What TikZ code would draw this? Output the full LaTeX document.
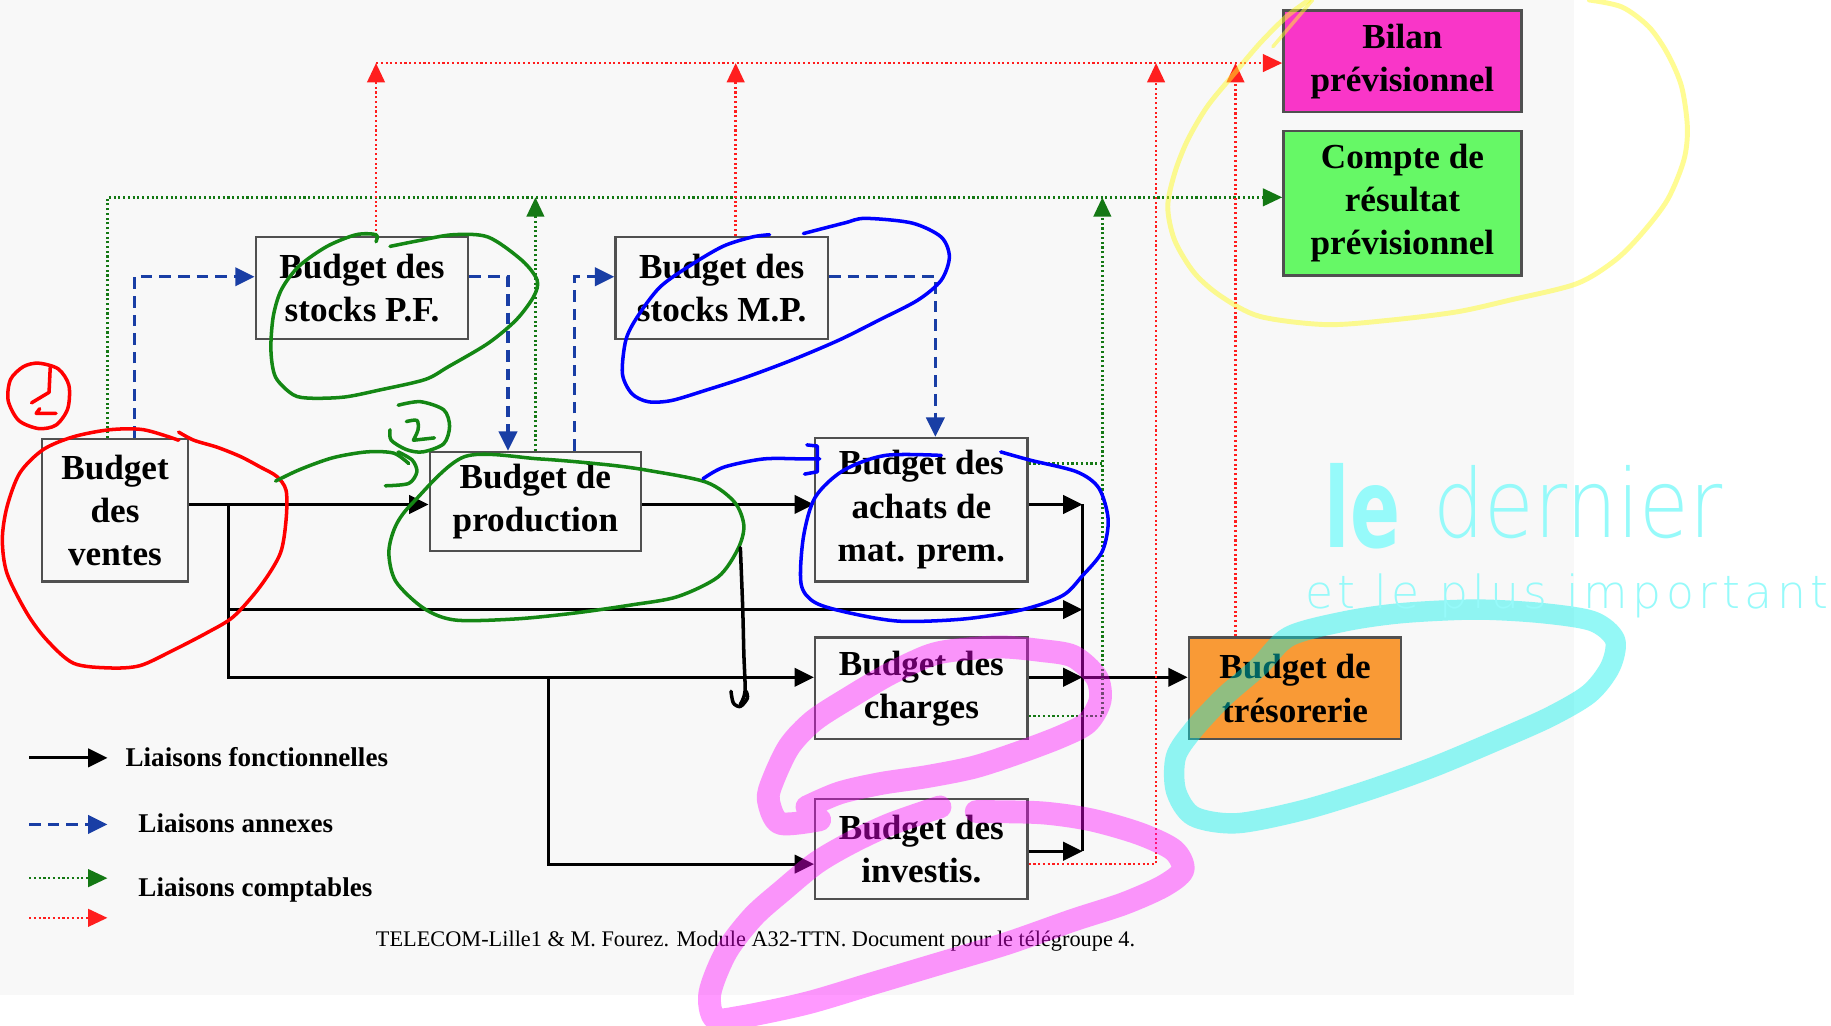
\documentclass[tikz,border=0pt]{standalone}
\usepackage{fontspec}
\setmainfont{Liberation Serif}
\newfontfamily\handfont{DejaVu Sans ExtraLight}
\newfontfamily\blobfont{DejaVu Sans Bold}
\usetikzlibrary{arrows.meta}
\definecolor{bg}{RGB}{248,248,248}
\definecolor{boxline}{RGB}{80,80,80}
\definecolor{annblue}{RGB}{25,62,165}
\definecolor{cptgreen}{RGB}{20,120,20}
\definecolor{cptred}{RGB}{255,30,30}
\definecolor{bilanfill}{RGB}{249,54,200}
\definecolor{comptefill}{RGB}{102,248,102}
\definecolor{tresofill}{RGB}{249,154,54}
\definecolor{hlcyan}{RGB}{0,240,235}
\definecolor{hlpink}{RGB}{255,0,255}
\definecolor{hlyellow}{RGB}{255,250,40}
\definecolor{penred}{RGB}{255,0,0}
\definecolor{pengreen}{RGB}{20,135,20}
\definecolor{penblue}{RGB}{0,0,255}
\definecolor{pencyan}{RGB}{150,250,250}
\begin{document}
\begin{tikzpicture}[
      x=0.11677mm, y=-0.11677mm,
      box/.style={draw=boxline, line width=0.65pt, fill=bg, align=center, inner sep=0pt,
        minimum width=21.25mm, minimum height=10.16mm,
        font=\fontsize{10}{12.3}\selectfont\bfseries},
      fct/.style={draw=black, line width=0.9pt, -{Triangle[length=5.5pt,width=5.2pt]}},
      lien/.style={draw=black, line width=0.9pt},
      annexe/.style={draw=annblue, line width=0.9pt, dash pattern=on 3.3pt off 2pt,
        -{Triangle[length=5.5pt,width=5.2pt]}},
      compta/.style={draw=cptgreen, line width=0.7pt, dash pattern=on 0.6pt off 0.75pt,
        -{Triangle[length=5.5pt,width=5pt]}},
      comptaline/.style={draw=cptgreen, line width=0.7pt, dash pattern=on 0.6pt off 0.75pt},
      rcompta/.style={draw=cptred, line width=0.7pt, dash pattern=on 0.6pt off 0.75pt,
        -{Triangle[length=5.5pt,width=5pt]}},
      legtxt/.style={anchor=west, inner sep=0pt, font=\fontsize{7.7}{9}\selectfont\bfseries},
      scribble/.style={line width=1pt, line cap=round, line join=round},
      marker/.style={line width=6.5pt, line cap=round, line join=round, draw opacity=0.4}
    ]
      \useasboundingbox (0,0) rectangle (1568,878);
      \fill[white] (0,0) rectangle (1568,878);
      \fill[bg] (0,0) rectangle (1348,852);

      % budgets
      \node[box, minimum width=14.6mm, minimum height=14.25mm] (ventes) at (98.5,437) {Budget\\des\\ventes};
      \node[box] (stockspf) at (310,246.5) {Budget des\\stocks P.F.};
      \node[box] (stocksmp) at (618,246.5) {Budget des\\stocks M.P.};
      \node[box, minimum width=21.14mm, minimum height=9.93mm] (prod) at (458.5,429.5) {Budget de\\production};
      \node[box, minimum height=14.36mm] (achats) at (789,436.5) {Budget des\\achats de\\mat. prem.};
      \node[box] (charges) at (789,589.5) {Budget des\\charges};
      \node[box, minimum height=10.04mm] (investis) at (789,727) {Budget des\\investis.};
      \node[box, fill=tresofill] (treso) at (1109,589.5) {Budget de\\trésorerie};
      \node[box, fill=bilanfill, minimum width=23.82mm] (bilan) at (1201,52.5) {Bilan\\prévisionnel};
      \node[box, fill=comptefill, minimum width=23.82mm, minimum height=14.48mm] (compte) at (1201,174) {Compte de\\résultat\\prévisionnel};

      % rows and columns of the links
      \coordinate (rowA) at (0,432);
      \coordinate (rowB) at (0,522);
      \coordinate (rowC) at (0,580);
      \coordinate (rowD) at (0,740);
      \coordinate (rowE) at (0,729);
      \coordinate (split1) at (196,432);
      \coordinate (split2) at (470,580);
      \coordinate (coll) at (927,432);
      \coordinate (aRow) at (115,237);
      \coordinate (aCol1) at (435,237);
      \coordinate (aCol2) at (492,237);
      \coordinate (aCol3) at (801,237);
      \coordinate (gTop) at (92,169);
      \coordinate (gCol) at (944,169);
      \coordinate (gAch) at (0,397);
      \coordinate (gCha) at (0,613);
      \coordinate (rTop) at (322,54);
      \coordinate (rMP) at (630,54);
      \coordinate (rInv) at (990,54);
      \coordinate (rTre) at (1058,54);

      % liaisons fonctionnelles
      \draw[fct] (ventes.east |- rowA) -- (prod.west |- rowA);
      \draw[fct] (prod.east |- rowA) -- (achats.west |- rowA);
      \draw[fct] (split1) |- (coll |- rowB);
      \draw[fct] (split1) |- (charges.west |- rowC);
      \draw[fct] (split2) |- (investis.west |- rowD);
      \draw[fct] (achats.east |- rowA) -- (coll);
      \draw[fct] (charges.east |- rowC) -- (coll |- rowC);
      \draw[fct] (investis.east |- rowE) -- (coll |- rowE);
      \draw[lien] (coll) -- (coll |- rowE);
      \draw[fct] (coll |- rowC) -- (treso.west |- rowC);

      % liaisons annexes
      \draw[annexe] (ventes.north -| aRow) |- (stockspf.west |- aRow);
      \draw[annexe] (stockspf.east |- aRow) -| (prod.north -| aCol1);
      \draw[annexe] (prod.north -| aCol2) |- (stocksmp.west |- aRow);
      \draw[annexe] (stocksmp.east |- aRow) -| (achats.north -| aCol3);

      % liaisons comptables
      \draw[compta] (ventes.north -| gTop) |- (compte.west |- gTop);
      \draw[compta] (prod.north) -- (prod.north |- gTop);
      \draw[compta] (charges.east |- gCha) -| (gCol);
      \draw[comptaline] (achats.east |- gAch) -- (gCol |- gAch);
      \draw[rcompta] (stockspf.north -| rTop) -- (rTop);
      \draw[rcompta] (rTop) -- (bilan.west |- rTop);
      \draw[rcompta] (stocksmp.north -| rMP) -- (rMP);
      \draw[rcompta] (investis.east |- rowD) -| (rInv);
      \draw[rcompta] (treso.north -| rTre) -- (rTre);

      % legend
      \coordinate (lgA1) at (25,649);  \coordinate (lgA2) at (92,649);
      \coordinate (lgB1) at (25,706);  \coordinate (lgB2) at (92,706);
      \coordinate (lgC1) at (25,752);  \coordinate (lgC2) at (92,752);
      \coordinate (lgD1) at (25,786);  \coordinate (lgD2) at (92,786);
      \draw[fct] (lgA1) -- (lgA2);
      \draw[annexe] (lgB1) -- (lgB2);
      \draw[compta] (lgC1) -- (lgC2);
      \draw[rcompta] (lgD1) -- (lgD2);
      \node[legtxt] (legfct) at (107,648) {Liaisons fonctionnelles};
      \node[legtxt] (legann) at (118,705) {Liaisons annexes};
      \node[legtxt] (legcpt) at (118,762) {Liaisons comptables};
      \node[inner sep=0pt, font=\fontsize{6.35}{8}\selectfont] (footer) at (647,806)
        {TELECOM-Lille1 \& M. Fourez. Module A32-TTN. Document pour le télégroupe 4.};

      % hand annotations
      \draw[scribble, penred] plot[smooth cycle] coordinates {(33,311) (50,316) (59,330) (58,350) (48,364) (33,367) (16,360) (7,343) (9,325) (20,314)};
      \draw[scribble, penred] (43,315) -- (42,336) -- (27,345);
      \draw[scribble, penred] (34,350) -- (31,354) -- (48,354);
      \draw[scribble, penred] plot[smooth] coordinates {(153,377) (123,368) (94,368) (63,374) (37,385) (17,405) (6,434) (2,462) (6,491) (23,525) (40,548) (63,568) (94,572) (120,570) (148,557) (177,542) (200,528) (223,502) (240,474) (245,445) (245,420) (237,408) (223,400) (206,391) (186,383) (166,377) (153,370)};

      \draw[scribble, pengreen] plot[smooth] coordinates {(322,207) (322,201) (305,201) (280,211) (256,228) (241,248) (234,271) (232,300) (236,323) (251,338) (266,341) (295,340) (325,334) (364,325) (384,314) (418,294) (442,274) (457,254) (460,240) (447,223) (418,203) (388,201) (359,206) (334,211)};
      \draw[scribble, pengreen] plot[smooth] coordinates {(236,412) (257,402) (285,392) (314,387) (337,388) (350,397)};
      \draw[scribble, pengreen] plot[smooth] coordinates {(341,387) (353,394) (357,404) (350,414) (330,416)};
      \draw[scribble, pengreen] plot[smooth] coordinates {(341,347) (360,344) (380,351) (385,365) (380,380) (362,387) (348,385) (335,377) (334,368)};
      \draw[scribble, pengreen] plot[smooth] coordinates {(348,361) (357,360) (358,368) (354,377)} -- (372,375);
      \draw[scribble, pengreen] plot[smooth cycle] coordinates {(398,391) (462,393) (520,398) (556,403) (605,413) (629,430) (637,450) (632,470) (615,494) (580,511) (541,518) (492,525) (442,530) (390,531) (363,521) (339,498) (333,473) (339,450) (354,430)};

      \draw[scribble, penblue] plot[smooth] coordinates {(688,200) (723,191) (741,187) (781,191) (806,203) (813,220) (806,240) (786,257) (753,274) (719,291) (679,308) (639,323) (605,334) (575,343) (555,344) (541,337) (533,320) (536,291) (546,271) (565,246) (590,228) (619,211) (644,203) (659,201)};
      \draw[scribble, penblue] plot[smooth] coordinates {(602,410) (620,400) (654,393) (688,393) (702,393)};
      \draw[scribble, penblue] (691,381) -- (700,382) -- (700,404) -- (689,406);
      \draw[scribble, penblue] plot[smooth] coordinates {(806,390) (758,390) (722,403) (698,426) (688,460) (686,500) (698,516) (728,525) (771,532) (826,530) (876,522) (910,510) (927,493) (944,472) (949,445) (941,418) (922,404) (882,394) (857,387)};

      \draw[scribble, black] plot[smooth] coordinates {(634,469) (636,520) (637,560) (638,592) (634,603)};
      \draw[scribble, black] plot[smooth] coordinates {(626,592) (628,602) (634,605) (640,598) (639,592)};

      \draw[marker, hlpink] plot[smooth] coordinates {(702,702) (668,705) (658,685) (662,668) (676,639) (697,617) (728,597) (762,577) (794,562) (816,557) (856,554) (891,557) (919,562) (939,580) (942,600) (931,619) (908,631) (871,645) (834,657) (794,665) (754,671) (719,679) (691,691)};
      \draw[marker, hlpink] plot[smooth] coordinates {(805,691) (762,706) (728,722) (699,739) (671,762) (645,785) (622,815) (608,850) (612,872) (634,871) (691,859) (748,842) (805,825) (862,808) (919,788) (962,774) (996,759) (1013,745) (1005,728) (976,714) (934,702) (891,696) (836,695)};

      \draw[marker, hlcyan, line width=5.8pt, draw opacity=0.42] plot[smooth cycle] coordinates {(1104,545) (1152,532) (1201,525) (1264,522) (1320,525) (1364,532) (1383,548) (1379,571) (1361,594) (1327,614) (1282,634) (1227,657) (1171,677) (1115,694) (1059,705) (1022,699) (1007,677) (1007,648) (1022,625) (1048,597) (1078,571)};

      \draw[scribble, hlyellow, line width=1.4pt, draw opacity=0.5] plot[smooth] coordinates {(1121,0) (1102,14) (1079,37) (1057,63) (1034,91) (1017,120) (1006,148) (1000,177) (1006,206) (1023,234) (1046,254) (1079,271) (1136,278) (1192,274) (1248,267) (1293,257) (1350,243) (1383,223) (1406,200) (1428,171) (1442,137) (1445,109) (1440,74) (1428,46) (1412,23) (1389,6) (1361,0)};
      \draw[scribble, hlyellow, line width=1pt, draw opacity=0.5] (1090,40) -- (1124,0);

      \node[anchor=base west, inner sep=0pt, text=pencyan, font=\blobfont\fontsize{21}{21}\selectfont] (le) at (1134,469) {\scalebox{1}[1.5]{le}};
      \node[anchor=base west, inner sep=0pt, text=pencyan, font=\handfont\fontsize{27}{27}\selectfont] (dernier) at (1227,460) {\scalebox{0.85}[1]{dernier}};
      \node[anchor=base west, inner sep=0pt, text=pencyan, font=\handfont\fontsize{13}{13}\selectfont\addfontfeature{LetterSpace=10}] (important) at (1117,521) {et le plus important};
\end{tikzpicture}
\end{document}
